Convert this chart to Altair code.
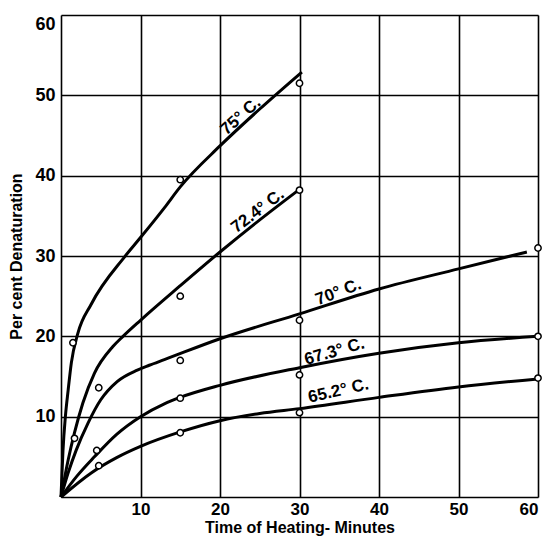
import altair as alt
import pandas as pd

# Curves
c75_x = [0, 0.25, 0.55, 0.9, 1.3, 2.1, 3.8, 8, 10, 13, 15, 20, 25, 30.3]
c75_y = [0, 5.8, 10.0, 13.3, 16.7, 20.3, 24.0, 29.9, 32.3, 36.0, 38.6, 43.7, 48.3, 52.9]
c72_x = [0, 0.9, 1.7, 2.75, 4.2, 6.5, 7.8, 10, 15, 20, 25, 30]
c72_y = [0, 4.6, 8.0, 11.7, 15.4, 18.7, 20.0, 22.0, 26.3, 30.5, 34.5, 38.3]
c70_x = [0, 0.9, 1.9, 3.4, 5.0, 7.1, 9.6, 11.1, 13, 20, 30, 40, 50, 58.6]
c70_y = [0, 3.0, 5.8, 9.2, 12.1, 14.4, 15.8, 16.4, 17.1, 19.7, 22.8, 25.9, 28.4, 30.5]
c67_x = [0, 2, 4.2, 7, 10, 13, 15, 20, 30, 40, 50, 60]
c67_y = [0, 2.6, 5.0, 7.8, 10.0, 11.6, 12.4, 13.9, 16.1, 17.9, 19.2, 20.0]
c65_x = [0, 3.8, 7, 10, 15, 20, 25, 30, 40, 50, 60]
c65_y = [0, 3.0, 4.9, 6.3, 8.1, 9.5, 10.4, 11.0, 12.4, 13.7, 14.7]

# Observed points
p75_x = [1.5, 15, 30]
p75_y = [19.2, 39.5, 51.5]
p72_x = [1.7, 15, 30]
p72_y = [7.3, 25.0, 38.2]
p70_x = [4.75, 15, 30, 60]
p70_y = [13.6, 17.0, 22.0, 31.0]
p67_x = [4.5, 15, 30, 60]
p67_y = [5.8, 12.3, 15.2, 20.0]
p65_x = [4.75, 15, 30, 60]
p65_y = [3.9, 8.0, 10.5, 14.8]

# Curve labels
label_text = ["75° C.", "72.4° C.", "70° C.", "67.3° C.", "65.2° C."]
label_x = [22.6, 24.75, 34.9, 34.4, 34.9]
label_y = [47.4, 35.6, 25.5, 18.1, 13.2]
label_angle = [318, 323, 339, 344, 347]

ticks = [0, 10, 20, 30, 40, 50, 60]

curves = [("75", c75_x, c75_y), ("72.4", c72_x, c72_y), ("70", c70_x, c70_y),
          ("67.3", c67_x, c67_y), ("65.2", c65_x, c65_y)]
pts = [("75", p75_x, p75_y), ("72.4", p72_x, p72_y), ("70", p70_x, p70_y),
       ("67.3", p67_x, p67_y), ("65.2", p65_x, p65_y)]

line_df = pd.DataFrame([{"s": s, "x": x, "y": y} for s, xs, ys in curves for x, y in zip(xs, ys)])
pt_df = pd.DataFrame([{"s": s, "x": x, "y": y} for s, xs, ys in pts for x, y in zip(xs, ys)])
lab_df = pd.DataFrame({"t": label_text, "x": label_x, "y": label_y, "a": label_angle})

FONT = "Liberation Sans Narrow, Liberation Sans, sans-serif"

xs = alt.Scale(domain=[0, 60], nice=False, zero=False)
ys = alt.Scale(domain=[0, 60], nice=False, zero=False)

xaxis = alt.Axis(values=ticks, labelExpr="datum.value == 0 ? '' : datum.label",
                 title="Time of Heating- Minutes", grid=True, gridColor="black",
                 gridWidth=1.6, gridOpacity=1, ticks=False, domain=False,
                 labelFont=FONT, labelFontSize=17, labelFontWeight="bold", labelColor="black",
                 labelPadding=4, labelFlush=True, labelFlushOffset=0,
                 titleFont=FONT, titleFontSize=16, titleFontWeight="bold",
                 titleColor="black", titlePadding=2)
yaxis = alt.Axis(values=ticks, labelExpr="datum.value == 0 ? '' : datum.label",
                 title="Per cent Denaturation", grid=True, gridColor="black",
                 gridWidth=1.6, gridOpacity=1, ticks=False, domain=False,
                 labelFont=FONT, labelFontSize=18, labelFontWeight="bold", labelColor="black",
                 labelPadding=6, labelFlush=True, labelFlushOffset=0,
                 titleFont=FONT, titleFontSize=16, titleFontWeight="bold",
                 titleColor="black", titlePadding=10)

lines = alt.Chart(line_df).mark_line(color="black", strokeWidth=3, interpolate="monotone").encode(
    x=alt.X("x:Q", scale=xs, axis=xaxis),
    y=alt.Y("y:Q", scale=ys, axis=yaxis),
    detail="s:N",
    order="x:Q",
)

points = alt.Chart(pt_df).mark_point(shape="circle", size=40, filled=False, fill="white",
                                     fillOpacity=1, stroke="black", strokeWidth=1.5, opacity=1).encode(
    x=alt.X("x:Q", scale=xs),
    y=alt.Y("y:Q", scale=ys),
)

labels = alt.Chart(lab_df).mark_text(font=FONT, fontSize=17, fontWeight="bold", color="black",
                                     baseline="middle", align="center").encode(
    x=alt.X("x:Q", scale=xs),
    y=alt.Y("y:Q", scale=ys),
    text="t:N",
    angle=alt.Angle("a:Q", scale=None),
)

chart = alt.layer(lines, points, labels).properties(
    width=477, height=482,
    autosize=alt.AutoSizeParams(type="none"),
    padding={"left": 53, "top": 7, "right": 4, "bottom": 40},
).configure_view(stroke="black", strokeWidth=3).configure(background="white")

chart.save("out.html", embed_options={"renderer": "svg", "actions": False})
